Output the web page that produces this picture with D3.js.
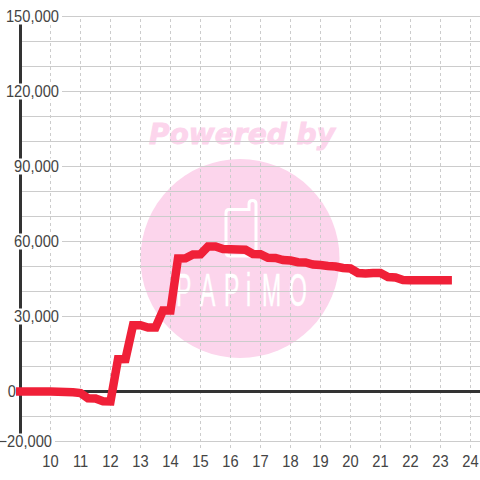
<!DOCTYPE html>
<html>
<head>
<meta charset="utf-8">
<script src="https://cdn.jsdelivr.net/npm/d3@7"></script>
<style>
html,body{margin:0;padding:0;background:#fff}
svg{display:block}
text{font-family:"Liberation Sans",Arial,sans-serif}
</style>
</head>
<body>
<svg id="c" width="480" height="480"></svg>
<script>
const gridTicks = [150000,140000,130000,120000,110000,100000,90000,80000,70000,60000,50000,40000,30000,20000,10000,-10000,-20000];
const yLabelTicks = [150000,120000,90000,60000,30000,0,-20000];
const xTicks = [10,11,12,13,14,15,16,17,18,19,20,21,22,23,24];
const hours = [8.85,10,10.25,10.5,10.75,11,11.25,11.5,11.75,12,12.25,12.5,12.75,13,13.25,13.5,13.75,14,14.25,14.5,14.75,15,15.25,15.5,15.75,16,16.25,16.5,16.75,17,17.25,17.5,17.75,18,18.25,18.5,18.75,19,19.25,19.5,19.75,20,20.25,20.5,20.75,21,21.25,21.5,21.75,22,22.25,22.5,22.75,23,23.38];
const values = [0,0,-100,-200,-300,-600,-2700,-2800,-3900,-4000,12900,13000,26500,26500,25600,25600,32400,32400,53200,53300,54800,54900,58000,58000,57000,56900,56800,56700,55000,54900,53500,53400,52600,52400,51700,51600,50800,50600,50200,50000,49400,49200,47400,47200,47400,47400,45800,45600,44600,44500,44500,44500,44500,44500,44500];
const watermarkTop = "Powered by";
const watermarkLogo = "PAPiMO";

const svg = d3.select("#c");
const x = d3.scaleLinear().domain([10,24]).range([50.5,470.5]);
const y = d3.scaleLinear().domain([-20000,150000]).range([441.5,16.5]);

// watermark
const pink = "#fcd5ec";
svg.append("text").attr("x",149).attr("y",144).attr("textLength",186).attr("lengthAdjust","spacingAndGlyphs")
  .style("font-family","'DejaVu Sans'").style("font-weight","bold").style("font-style","italic")
  .style("font-size","28px").attr("fill",pink).attr("stroke",pink).attr("stroke-width",0.9).text(watermarkTop);
svg.append("circle").attr("cx",240).attr("cy",258.5).attr("r",99.5).attr("fill",pink);
svg.append("path").attr("fill","none").attr("stroke","#fff").attr("stroke-width",3)
  .attr("d","M229,209.5 H249 V204 Q249,200.5 252.5,200.5 Q256,200.5 256,204 V252 Q256,256 252,256 H230 Q226,256 226,252 V213 Q226,209.5 229,209.5 Z");
svg.append("text").attr("transform","scale(0.5,1)").attr("y",306)
  .attr("x",[176,200,224,246,262,289].map(v=>v/0.5).join(" "))
  .style("font-family","'Liberation Sans'").style("font-size","46px")
  .attr("fill","#fff").attr("stroke","#fff").attr("stroke-width",0.5).text(watermarkLogo);

// vertical dashed grid
const gx = svg.append("g").attr("transform","translate(0,448)")
  .call(d3.axisBottom(x).offset(0).tickValues(xTicks).tickSize(-432).tickFormat(""));
gx.select(".domain").remove();
gx.selectAll("line").attr("stroke","#cccccc").attr("stroke-width",1).attr("stroke-dasharray","3,3");

// horizontal grid
const gy = svg.append("g").attr("transform","translate(20,0)")
  .call(d3.axisRight(y).offset(0).tickValues(gridTicks).tickSize(460).tickFormat(""));
gy.select(".domain").remove();
gy.selectAll("line").attr("stroke","#cccccc").attr("stroke-width",1);

// axes
svg.append("line").attr("x1",20.5).attr("x2",20.5).attr("y1",y(150000)).attr("y2",y(-20000)).attr("stroke","#333").attr("stroke-width",3);
svg.append("line").attr("x1",16).attr("x2",480).attr("y1",y(0)).attr("y2",y(0)).attr("stroke","#333").attr("stroke-width",3);

// y labels with white plates
const labelRight = v => v === 0 ? 16 : v === -20000 ? 52 : 59;
const gl = svg.append("g")
  .call(d3.axisLeft(y).offset(0).tickValues(yLabelTicks).tickSize(0).tickFormat(d3.format(",")));
gl.select(".domain").remove();
gl.selectAll("text").attr("x",0).attr("dy","0.35em").attr("text-anchor","end")
  .attr("transform",d=>`translate(${labelRight(d)},0) scale(0.89,1)`)
  .attr("fill","#444").style("font-size","16.5px").style("font-family","'Liberation Sans'");
gl.selectAll(".tick").each(function(d){
  const t = d3.select(this).select("text").node();
  const w = t.getBBox().width*0.89;
  d3.select(this).insert("rect","text").attr("x",labelRight(d)-w-1).attr("y",-8)
    .attr("width",w+(d===0?3:4)).attr("height",16).attr("fill","#fff");
});

// x labels
const gb = svg.append("g").attr("transform","translate(0,448)")
  .call(d3.axisBottom(x).offset(0).tickValues(xTicks).tickSize(0).tickFormat(d3.format("d")));
gb.select(".domain").remove();
gb.selectAll("text").attr("y",0).attr("dy","0")
  .attr("transform","translate(0,19) scale(0.89,1)").attr("fill","#444")
  .style("font-size","16.5px").style("font-family","'Liberation Sans'");

// series
const line = d3.line().x((d,i)=>x(hours[i])).y(d=>y(d));
svg.append("path").datum(values).attr("fill","none").attr("stroke","#f02038")
  .attr("stroke-width",8.5).attr("stroke-linejoin","miter").attr("d",line);
</script>
</body>
</html>
